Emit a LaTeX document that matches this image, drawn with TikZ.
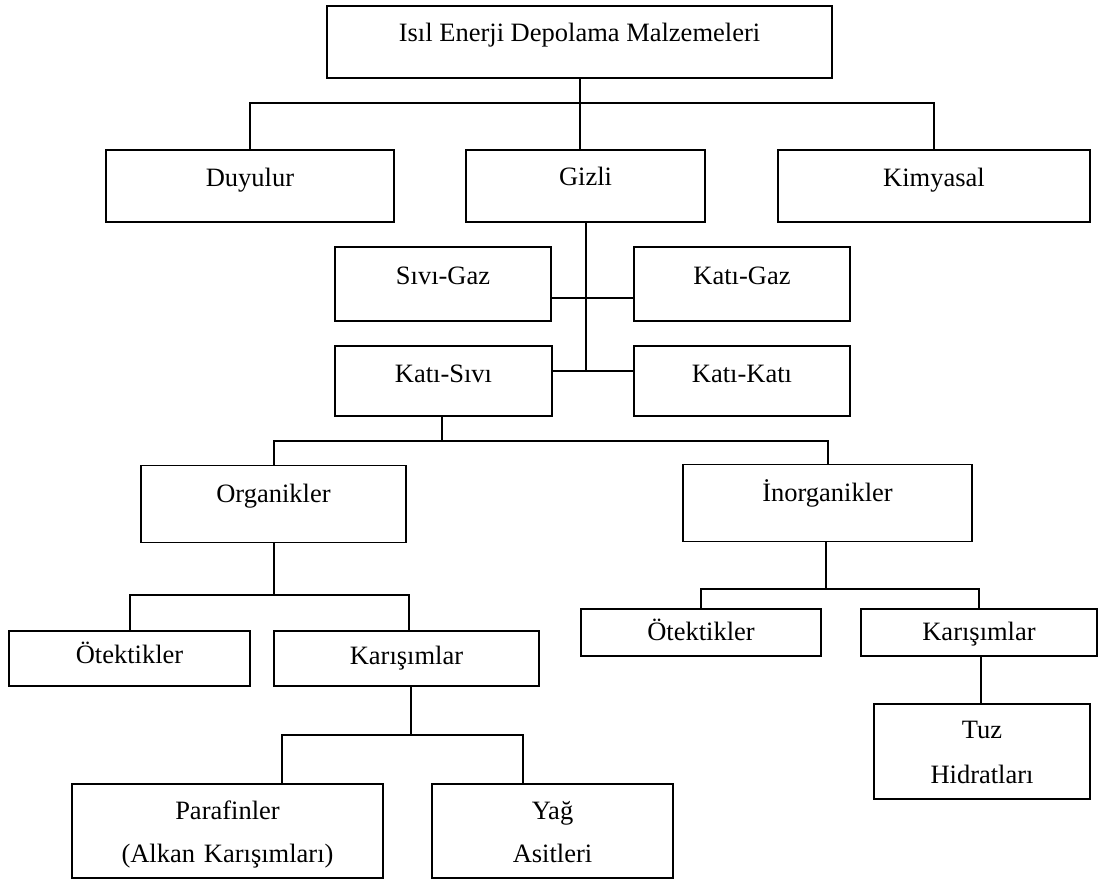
\documentclass[tikz,border=0pt]{standalone}
\usepackage{fontspec}
\setmainfont{Liberation Serif}
\usetikzlibrary{calc}
\tikzset{
  bx/.style={draw, line width=1.8pt, rectangle, inner sep=0pt, font=\fontsize{26.5}{43}\selectfont},
  ln/.style={line width=2pt}
}
\begin{document}
\begin{tikzpicture}[x=1pt,y=-1pt]
\path[fill=white] (0,0) rectangle (1099,880);
\useasboundingbox (0,0) rectangle (1099,880);
% level 0
\node[bx, minimum width=505pt, minimum height=72pt, text height=36pt, text depth=36pt] (top) at (579.5,42) {Isıl Enerji Depolama Malzemeleri};
% level 1
\node[bx, minimum width=288pt, minimum height=72pt, text height=36pt, text depth=36pt] (duy) at (250,186) {Duyulur};
\node[bx, minimum width=239pt, minimum height=72pt, text height=35pt, text depth=37pt] (giz) at (585.5,186) {Gizli};
\node[bx, minimum width=312pt, minimum height=72pt, text height=36pt, text depth=36pt] (kim) at (934,186) {Kimyasal};
% level 2
\node[bx, minimum width=216pt, minimum height=74pt, text height=37pt, text depth=37pt] (sg) at (443,284) {Sıvı-Gaz};
\node[bx, minimum width=216pt, minimum height=74pt, text height=37pt, text depth=37pt] (kg) at (742,284) {Katı-Gaz};
\node[bx, minimum width=217pt, minimum height=70pt, text height=36pt, text depth=34pt] (ks) at (443.5,381) {Katı-Sıvı};
\node[bx, minimum width=216pt, minimum height=70pt, text height=36pt, text depth=34pt] (kk) at (742,381) {Katı-Katı};
% level 3
\node[bx, minimum width=265pt, minimum height=77pt, text height=37pt, text depth=40pt] (org) at (273.5,504) {Organikler};
\node[bx, minimum width=289pt, minimum height=77pt, text height=37pt, text depth=40pt] (ino) at (827.5,503) {İnorganikler};
% level 4
\node[bx, minimum width=241pt, minimum height=55pt, text height=32pt, text depth=23pt] (otL) at (129.5,658.5) {Ötektikler};
\node[bx, minimum width=265pt, minimum height=55pt, text height=33pt, text depth=22pt] (karL) at (406.5,658.5) {Karışımlar};
\node[bx, minimum width=240pt, minimum height=47pt, text height=31pt, text depth=16pt] (otR) at (701,632.5) {Ötektikler};
\node[bx, minimum width=236pt, minimum height=47pt, text height=31pt, text depth=16pt] (karR) at (979,632.5) {Karışımlar};
% level 5
\node[bx, minimum width=311pt, minimum height=94pt, text height=35pt, text depth=59pt, text width=300pt, align=center] (par) at (227.5,831) {Parafinler\\(Alkan Karışımları)};
\node[bx, minimum width=241pt, minimum height=94pt, text height=35pt, text depth=59pt, text width=230pt, align=center] (yag) at (552.5,831) {Yağ\\Asitleri};
\node[bx, minimum width=216pt, minimum height=95pt, text height=34pt, text depth=61pt, text width=205pt, align=center, font=\fontsize{26.5}{45}\selectfont] (tuz) at (982,751.5) {Tuz\\Hidratları};
% connectors
\coordinate (j1) at ($(top.south)+(0,24)$);
\draw[ln] (top.south) -- (top.south |- giz.north);
\draw[ln] (duy.north) |- (j1) -| (kim.north);
\coordinate (g0) at ($(giz.south)+(0.5,0)$);
\coordinate (h1) at ($(giz.south)+(0.5,75)$);
\coordinate (h2) at ($(giz.south)+(0.5,148)$);
\draw[ln] (g0) -- (h2);
\draw[ln] (sg.east |- h1) -- (kg.west |- h1);
\draw[ln] (ks.east |- h2) -- (kk.west |- h2);
\coordinate (k0) at ($(ks.south)+(-1.5,0)$);
\coordinate (j2) at ($(ks.south)+(-1.5,24)$);
\draw[ln] (k0) -- (j2);
\draw[ln] (org.north) |- (j2) -| (ino.north);
\coordinate (j3) at ($(org.south)+(0,52)$);
\coordinate (kl) at ($(karL.north)+(2.5,0)$);
\draw[ln] (org.south) -- (j3);
\draw[ln] (otL.north) |- (j3) -| (kl);
\coordinate (k1) at ($(karL.south)+(4.5,0)$);
\coordinate (k2) at ($(karL.south)+(4.5,48)$);
\draw[ln] (k1) -- (k2);
\coordinate (p1) at ($(par.north west)+(211,0)$);
\coordinate (y1) at ($(yag.north west)+(92,0)$);
\draw[ln] (p1) |- (k2) -| (y1);
\coordinate (i0) at ($(ino.south)+(-1.5,0)$);
\coordinate (j4) at ($(ino.south)+(-1.5,47)$);
\draw[ln] (i0) -- (j4);
\draw[ln] (otR.north) |- (j4) -| (karR.north);
\coordinate (t1) at ($(karR.south)+(2,0)$);
\draw[ln] (t1) -- (t1 |- tuz.north);
\end{tikzpicture}
\end{document}
